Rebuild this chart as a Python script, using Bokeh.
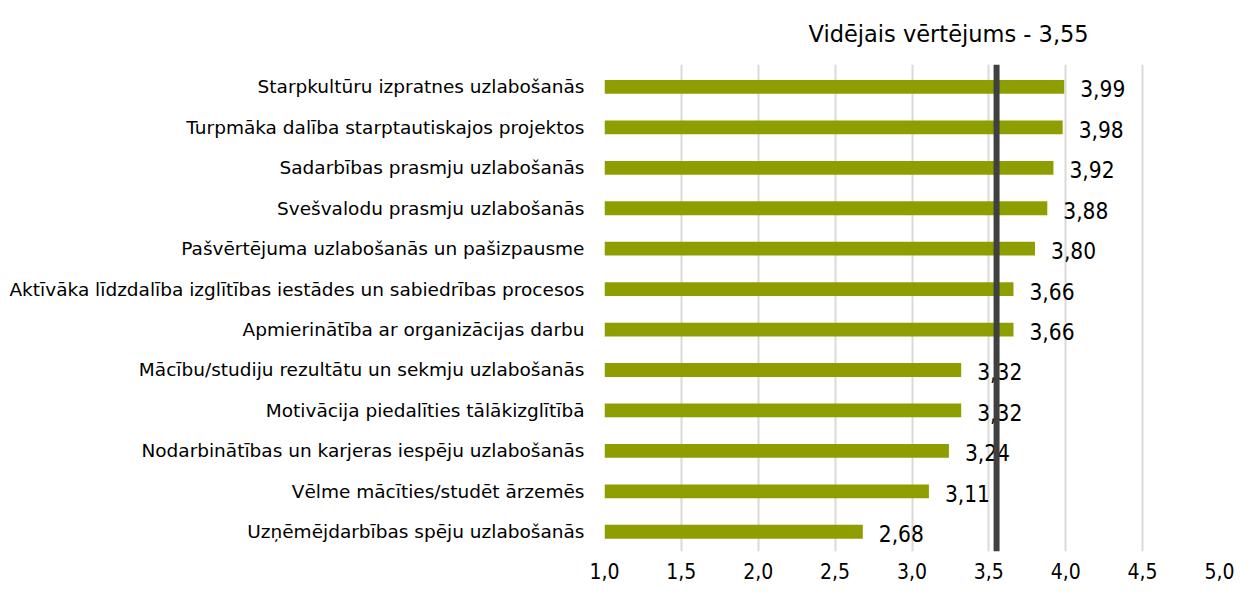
from bokeh.plotting import figure
from bokeh.models import FixedTicker, Span
from bokeh.core.properties import value
from bokeh.embed import file_html
from bokeh.resources import INLINE

categories = [
    "Starpkultūru izpratnes uzlabošanās",
    "Turpmāka dalība starptautiskajos projektos",
    "Sadarbības prasmju uzlabošanās",
    "Svešvalodu prasmju uzlabošanās",
    "Pašvērtējuma uzlabošanās un pašizpausme",
    "Aktīvāka līdzdalība izglītības iestādes un sabiedrības procesos",
    "Apmierinātība ar organizācijas darbu",
    "Mācību/studiju rezultātu un sekmju uzlabošanās",
    "Motivācija piedalīties tālākizglītībā",
    "Nodarbinātības un karjeras iespēju uzlabošanās",
    "Vēlme mācīties/studēt ārzemēs",
    "Uzņēmējdarbības spēju uzlabošanās",
]
values = [3.99, 3.98, 3.92, 3.88, 3.80, 3.66, 3.66, 3.32, 3.32, 3.24, 3.11, 2.68]
mean_value = 3.55
title_text = "Vidējais vērtējums - 3,55"
x_ticks = [1.0, 1.5, 2.0, 2.5, 3.0, 3.5, 4.0, 4.5, 5.0]

CAT_FONT = "DejaVu Sans"
NUM_FONT = "DejaVu Sans Condensed"
n = len(categories)
ypos = [n - 1 - i for i in range(n)]
labels = [f"{v:.2f}".replace(".", ",") for v in values]

p = figure(width=1235, height=587, x_range=(1.0, 5.0), y_range=(-0.488, n - 1 + 0.554),
           output_backend="svg", toolbar_location=None,
           min_border_left=604, min_border_right=16, min_border_top=62, min_border_bottom=36)
p.outline_line_color = None
p.border_fill_color = "white"
p.background_fill_color = "white"

p.title.text = title_text
p.title.align = "left"
p.title.offset = 204
p.title.text_font = CAT_FONT
p.title.text_font_size = "22.5px"
p.title.text_font_style = "normal"
p.title.text_color = "black"
p.title.standoff = 36

p.xgrid.ticker = FixedTicker(ticks=x_ticks)
p.xgrid.grid_line_color = "#d9d9d9"
p.xgrid.grid_line_width = 2
p.ygrid.grid_line_color = None

p.xaxis.ticker = FixedTicker(ticks=x_ticks)
p.xaxis.major_label_overrides = {t: f"{t:.1f}".replace(".", ",") for t in x_ticks}
p.xaxis.axis_line_color = None
p.xaxis.major_tick_line_color = None
p.xaxis.minor_tick_line_color = None
p.xaxis.major_tick_out = 0
p.xaxis.major_tick_in = 0
p.xaxis.major_label_text_font = NUM_FONT
p.xaxis.major_label_text_font_size = "21px"
p.xaxis.major_label_text_color = "black"
p.xaxis.major_label_standoff = 11

p.yaxis.ticker = FixedTicker(ticks=ypos)
p.yaxis.major_label_overrides = {y: c for y, c in zip(ypos, categories)}
p.yaxis.axis_line_color = None
p.yaxis.major_tick_line_color = None
p.yaxis.minor_tick_line_color = None
p.yaxis.major_tick_out = 0
p.yaxis.major_tick_in = 0
p.yaxis.major_label_text_font = CAT_FONT
p.yaxis.major_label_text_font_size = "18.5px"
p.yaxis.major_label_text_color = "black"
p.yaxis.major_label_standoff = 20

p.hbar(y=ypos, left=1.0, right=values, height=0.341, fill_color="#8e9e00", line_color=None)
p.text(x=values, y=ypos, text=labels, x_offset=16, y_offset=2, text_baseline="middle",
       text_font=value(NUM_FONT), text_font_size="22.5px", text_color="black")

p.add_layout(Span(location=mean_value, dimension="height", line_color="#404040", line_width=6))

open("out.html", "w").write(file_html(p, INLINE))
